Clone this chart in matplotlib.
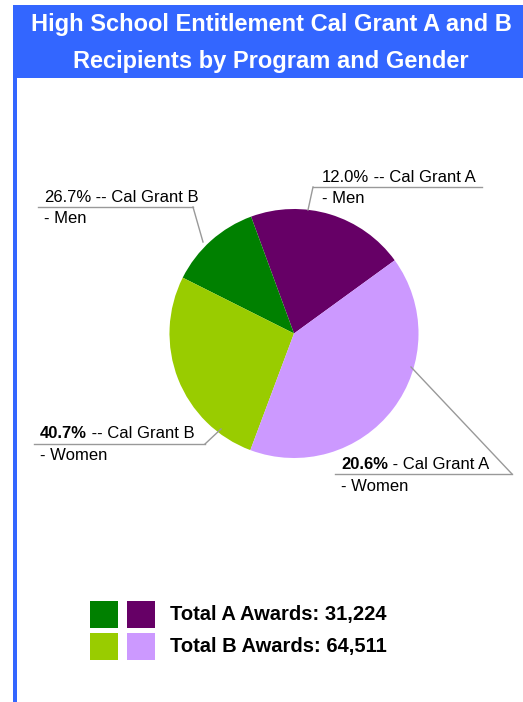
import matplotlib
matplotlib.use('Agg')
import matplotlib.pyplot as plt
from matplotlib.patches import Rectangle

plt.rcParams['font.family'] = ['Liberation Sans', 'DejaVu Sans']

# slice shares, drawn clockwise on screen from the right-hand edge
shares = [20.6, 12.0, 26.7, 40.7]
colors = ['#660066', '#008000', '#99CC00', '#CC99FF']

# callout texts next to each slice
label_pcts = ['12.0%', '26.7%', '40.7%', '20.6%']
label_rest = [' -- Cal Grant A', ' -- Cal Grant B', ' -- Cal Grant B', ' - Cal Grant A']
label_second = ['- Men', '- Men', '- Women', '- Women']
label_bold = [False, False, True, True]

legend_text = ['Total A Awards: 31,224', 'Total B Awards: 64,511']
legend_colors = [['#008000', '#660066'], ['#99CC00', '#CC99FF']]

title_lines = ['High School Entitlement Cal Grant A and B', 'Recipients by Program and Gender']

W, H = 523, 702
fig = plt.figure(figsize=(W / 100, H / 100), dpi=100)
ax = fig.add_axes([0, 0, 1, 1])

# pie (y axis is inverted below, so clockwise in data = counter-clockwise on screen)
ax.pie(shares, colors=colors, startangle=-36, counterclock=False,
       center=(294, 333.5), radius=124.5, frame=True,
       wedgeprops=dict(linewidth=0))

ax.set_xlim(0, W)
ax.set_ylim(H, 0)
ax.set_aspect('auto')
ax.axis('off')

# title bar + left border
ax.add_patch(Rectangle((13, 5), W - 13, 73, color='#3366FF', lw=0))
ax.add_patch(Rectangle((13, 5), 4, H, color='#3366FF', lw=0))
ax.text(271, 24, title_lines[0], color='white', fontsize=17, fontweight='bold',
        ha='center', va='center')
ax.text(271, 61.5, title_lines[1], color='white', fontsize=17, fontweight='bold',
        ha='center', va='center')

# callouts: text x, baseline 1, baseline 2, underline y, underline x0, x1, leader end
callouts = [
    (322, 182, 203, 187, 313, 482, (313, 187), (308, 210)),
    (44, 202, 223, 207, 38, 193, (193, 207), (203, 242)),
    (40, 438, 460, 444, 34, 205, (205, 444), (221, 429)),
    (341, 469, 491, 474, 335, 512, (512, 474), (411, 367)),
]
fig.canvas.draw()
renderer = fig.canvas.get_renderer()
inv = ax.transData.inverted()
for i, (tx, b1, b2, uy, ux0, ux1, p0, p1) in enumerate(callouts):
    t = ax.text(tx, b1, label_pcts[i], fontsize=12, va='baseline', ha='left',
                fontweight='bold' if label_bold[i] else 'normal')
    ext = t.get_window_extent(renderer)
    x_end = inv.transform((ext.x1, ext.y0))[0]
    ax.text(x_end, b1, label_rest[i], fontsize=12, va='baseline', ha='left')
    ax.text(tx, b2, label_second[i], fontsize=12, va='baseline', ha='left')
    ax.plot([ux0, ux1], [uy, uy], color='#999999', lw=1)
    ax.plot([p0[0], p1[0]], [p0[1], p1[1]], color='#999999', lw=1)

# legend
rows_y = [601, 633]
for r in range(2):
    for c, x0 in enumerate([90, 127]):
        ax.add_patch(Rectangle((x0, rows_y[r]), 28, 27, color=legend_colors[r][c], lw=0))
    ax.text(170, rows_y[r] + 13.5, legend_text[r], fontsize=14.5, fontweight='bold',
            ha='left', va='center')

fig.savefig('out.png', dpi=100)
